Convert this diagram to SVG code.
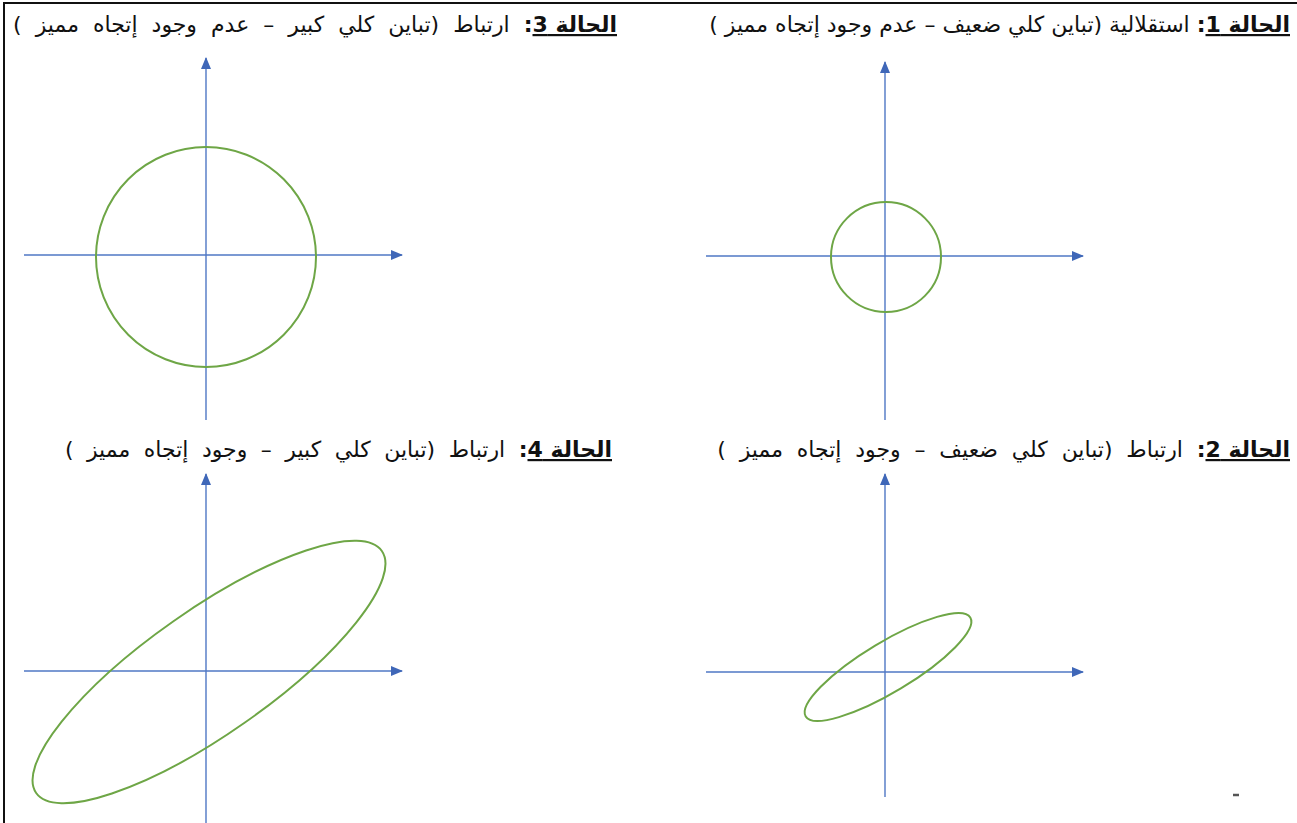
<svg xmlns="http://www.w3.org/2000/svg" width="1297" height="823" viewBox="0 0 1297 823">
<defs>
<marker id="arr" viewBox="0 0 12 10" refX="11" refY="5" markerWidth="12" markerHeight="10" markerUnits="userSpaceOnUse" orient="auto">
<path d="M0,0 L12,5 L0,10 z" fill="#3f67b8"/>
</marker>
<style>
.ax{stroke:#4f77c4;stroke-width:1.4;fill:none}
.sh{stroke:#6ea646;stroke-width:2;fill:none}
.t{font-family:"DejaVu Sans","Noto Sans",sans-serif;font-size:22px;fill:#111}
.b{font-weight:bold;text-decoration:underline;word-spacing:0}
.c{font-weight:bold}
</style>
</defs>
<rect width="1297" height="823" fill="#fff"/>
<g id="frame" stroke="#111" stroke-width="2" fill="none">
<line x1="4" y1="3" x2="4" y2="823"/>
<line x1="3" y1="3" x2="1297" y2="3"/>
</g>
<g id="connectors">
<line class="ax" x1="206" y1="420" x2="206" y2="58" marker-end="url(#arr)"/>
<line class="ax" x1="24" y1="255" x2="402" y2="255" marker-end="url(#arr)"/>
<line class="ax" x1="885" y1="420" x2="885" y2="62" marker-end="url(#arr)"/>
<line class="ax" x1="706" y1="256" x2="1083" y2="256" marker-end="url(#arr)"/>
<line class="ax" x1="206" y1="823" x2="206" y2="474" marker-end="url(#arr)"/>
<line class="ax" x1="24" y1="671" x2="402" y2="671" marker-end="url(#arr)"/>
<line class="ax" x1="885" y1="797" x2="885" y2="474" marker-end="url(#arr)"/>
<line class="ax" x1="706" y1="672" x2="1083" y2="672" marker-end="url(#arr)"/>
</g>
<g id="case1">
<text class="t" x="1290" y="32" direction="rtl" text-anchor="start"><tspan class="b">الحالة 1</tspan><tspan class="c">:</tspan> استقلالية (تباين كلي ضعيف – عدم وجود إتجاه مميز )</text>
<circle class="sh" cx="886" cy="257" r="55"/>
</g>
<g id="case3">
<text class="t" x="617" y="32" direction="rtl" text-anchor="start" word-spacing="7"><tspan class="b">الحالة 3</tspan><tspan class="c">:</tspan> ارتباط (تباين كلي كبير – عدم وجود إتجاه مميز )</text>
<circle class="sh" cx="206" cy="257" r="110"/>
</g>
<g id="case4">
<text class="t" x="612" y="457" direction="rtl" text-anchor="start" word-spacing="6.5"><tspan class="b">الحالة 4</tspan><tspan class="c">:</tspan> ارتباط (تباين كلي كبير – وجود إتجاه مميز )</text>
<ellipse class="sh" cx="0" cy="0" rx="211" ry="62" transform="translate(209,672) rotate(-35)"/>
</g>
<g id="case2">
<text class="t" x="1290" y="457" direction="rtl" text-anchor="start" word-spacing="6.8"><tspan class="b">الحالة 2</tspan><tspan class="c">:</tspan> ارتباط (تباين كلي ضعيف – وجود إتجاه مميز )</text>
<ellipse class="sh" cx="0" cy="0" rx="96" ry="25" transform="translate(888,667) rotate(-31)"/>
</g>
<line x1="1233" y1="795" x2="1239" y2="795" stroke="#555" stroke-width="2.5"/>
</svg>
